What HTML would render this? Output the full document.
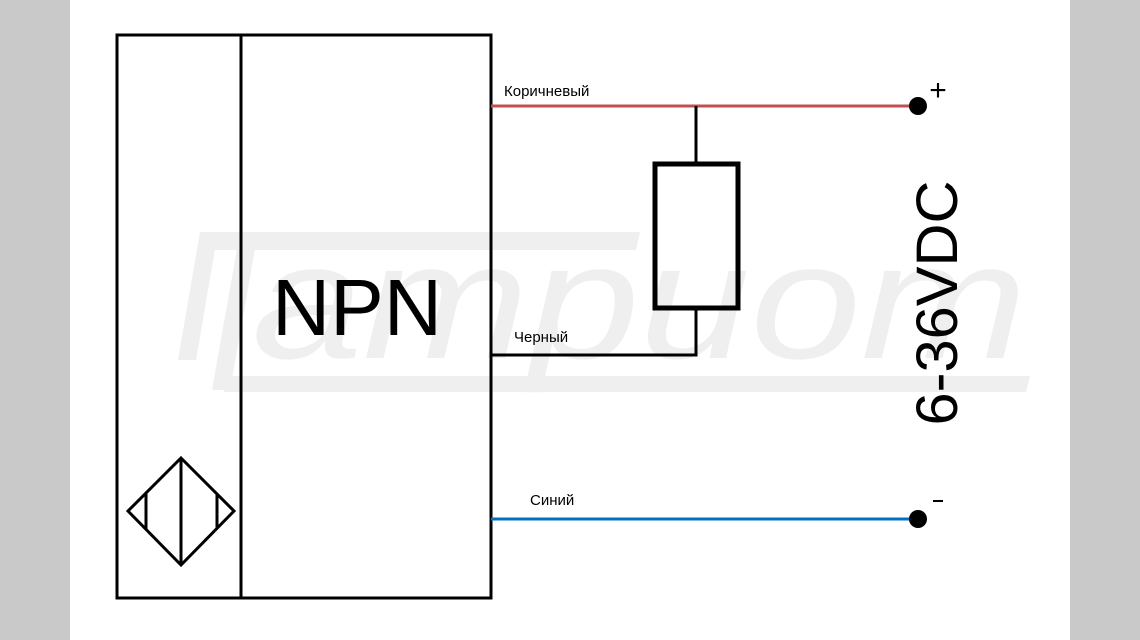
<!DOCTYPE html>
<html><head><meta charset="utf-8"><style>html,body{margin:0;padding:0;background:#fff}svg{display:block}</style></head>
<body>
<svg width="1140" height="640" viewBox="0 0 1140 640" xmlns="http://www.w3.org/2000/svg">
<rect width="1140" height="640" fill="#fff"/>
<rect x="0" y="0" width="70" height="640" fill="#c9c9c9"/>
<rect x="1070" y="0" width="70" height="640" fill="#c9c9c9"/>
<!-- watermark -->
<g fill="#efefef">
<polygon points="200,232 640,232 636,250 200,250"/>
<polygon points="200,232 218,232 196,360 178,360"/>
<polygon points="240,232 258,232 230,390 212,390"/>
<polygon points="228,376 1030,376 1026,392 224,392"/>
<text x="252" y="358" font-family="Liberation Sans, sans-serif" font-style="italic" font-size="165" fill="#efefef" textLength="775" lengthAdjust="spacingAndGlyphs">ampuom</text>
</g>
<!-- main box -->
<rect x="117" y="35" width="374" height="563" fill="none" stroke="#000" stroke-width="3"/>
<line x1="241" y1="35" x2="241" y2="598" stroke="#000" stroke-width="3"/>
<text x="357" y="335" font-family="Liberation Sans, sans-serif" font-size="80" text-anchor="middle" fill="#000" textLength="170" lengthAdjust="spacingAndGlyphs">NPN</text>
<!-- sensor symbol -->
<polygon points="181,458 234,511 181,565 128,511" fill="none" stroke="#000" stroke-width="3"/>
<line x1="181" y1="458" x2="181" y2="565" stroke="#000" stroke-width="3"/>
<line x1="146" y1="493" x2="146" y2="529" stroke="#000" stroke-width="3"/>
<line x1="217" y1="493" x2="217" y2="529" stroke="#000" stroke-width="3"/>
<!-- wires -->
<line x1="491" y1="106" x2="918" y2="106" stroke="#c0504d" stroke-width="3"/>
<line x1="491" y1="519" x2="918" y2="519" stroke="#0070c0" stroke-width="3"/>
<line x1="696" y1="106" x2="696" y2="165" stroke="#000" stroke-width="3"/>
<rect x="655" y="164" width="83" height="144" fill="none" stroke="#000" stroke-width="5"/>
<polyline points="696,308 696,355 491,355" fill="none" stroke="#000" stroke-width="3"/>
<circle cx="918" cy="106" r="9" fill="#000"/>
<circle cx="918" cy="519" r="9" fill="#000"/>
<text x="938" y="100" font-family="Liberation Sans, sans-serif" font-size="30" text-anchor="middle">+</text>
<line x1="933" y1="501" x2="943" y2="501" stroke="#000" stroke-width="2"/>
<text x="504" y="96" font-family="Liberation Sans, sans-serif" font-size="15">Коричневый</text>
<text x="514" y="342" font-family="Liberation Sans, sans-serif" font-size="15">Черный</text>
<text x="530" y="505" font-family="Liberation Sans, sans-serif" font-size="15">Синий</text>
<text transform="translate(957,303) rotate(-90)" font-family="Liberation Sans, sans-serif" font-size="58" text-anchor="middle" textLength="245" lengthAdjust="spacingAndGlyphs">6-36VDC</text>
</svg>
</body></html>
